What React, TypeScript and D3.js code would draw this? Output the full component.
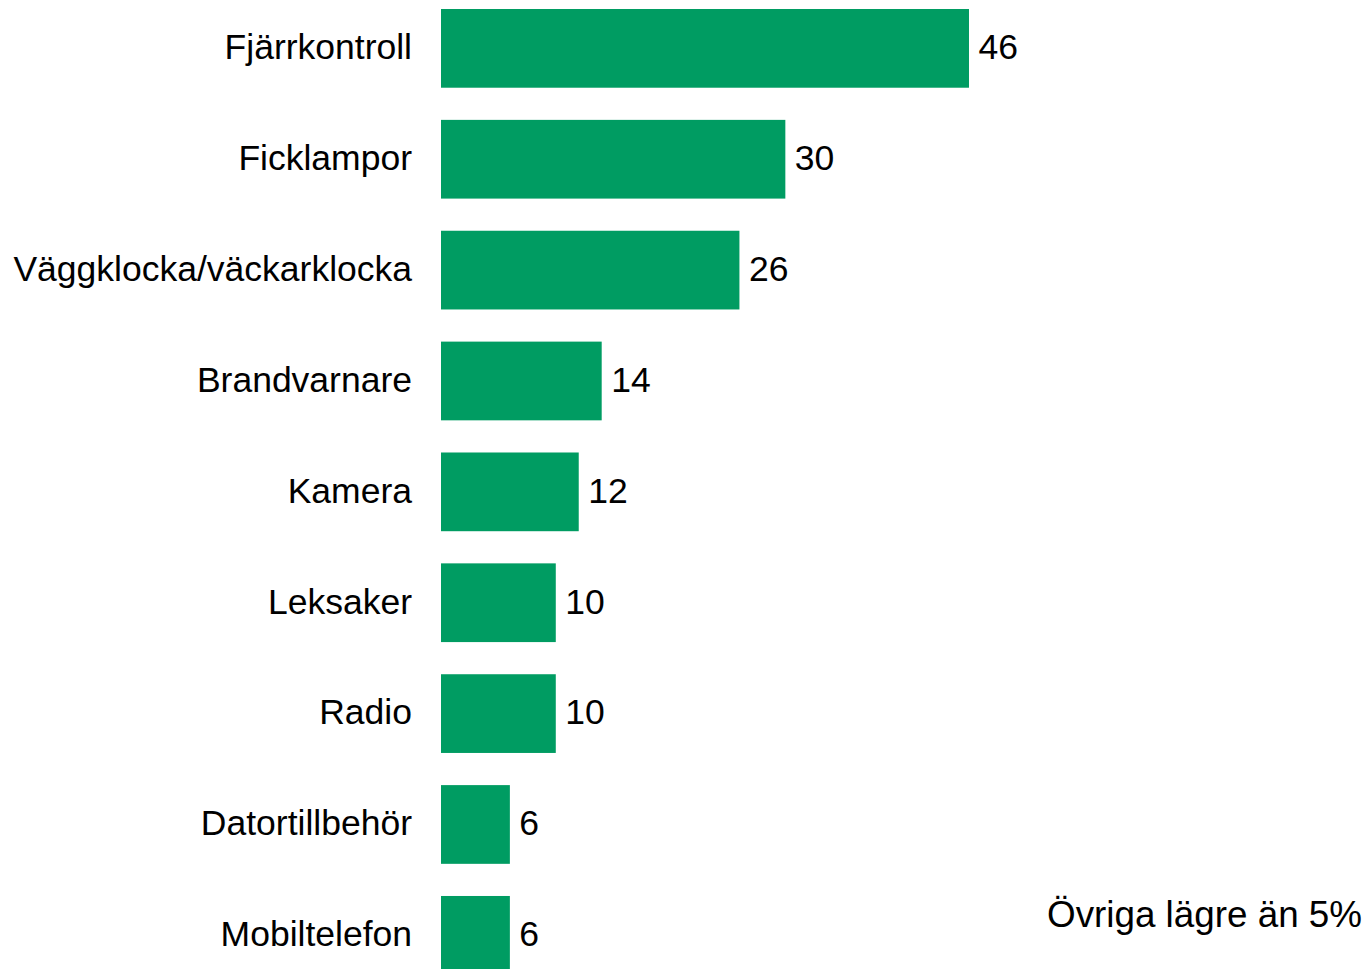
import React from "react";
import * as d3 from "d3";

const categories: string[] = [
  "Fjärrkontroll",
  "Ficklampor",
  "Väggklocka/väckarklocka",
  "Brandvarnare",
  "Kamera",
  "Leksaker",
  "Radio",
  "Datortillbehör",
  "Mobiltelefon",
];
const values: number[] = [46, 30, 26, 14, 12, 10, 10, 6, 6];
const noteText = "Övriga lägre än 5%";

const WIDTH = 1368;
const HEIGHT = 969;
const BAR_COLOR = "#009c62";
const FONT = "'Liberation Sans', Arial, sans-serif";
const FONT_SIZE = 35.5;

export default function App() {
  const x = d3.scaleLinear().domain([0, 50]).range([441, 441 + 50 * 11.478]);
  const y = d3
    .scaleBand<string>()
    .domain(categories)
    .range([9, 974.7])
    .paddingInner(0.29)
    .paddingOuter(0);

  return (
    <svg
      width={WIDTH}
      height={HEIGHT}
      style={{ position: "absolute", left: 0, top: 0, background: "#fff" }}
      fontFamily={FONT}
    >
      <rect x={0} y={0} width={WIDTH} height={HEIGHT} fill="#fff" />
      {categories.map((c, i) => {
        const y0 = y(c) as number;
        const bw = y.bandwidth();
        const cy = y0 + bw / 2;
        return (
          <g key={c}>
            <rect
              x={x(0)}
              y={y0}
              width={x(values[i]) - x(0)}
              height={bw}
              fill={BAR_COLOR}
            />
            <text
              x={412}
              y={cy + 10.8}
              textAnchor="end"
              fontSize={FONT_SIZE}
              fill="#000"
            >
              {c}
            </text>
            <text
              x={x(values[i]) + 9.5}
              y={cy + 10.8}
              textAnchor="start"
              fontSize={FONT_SIZE}
              fill="#000"
            >
              {values[i]}
            </text>
          </g>
        );
      })}
      <text x={1362} y={927} textAnchor="end" fontSize={36.8} fill="#000">
        {noteText}
      </text>
    </svg>
  );
}
